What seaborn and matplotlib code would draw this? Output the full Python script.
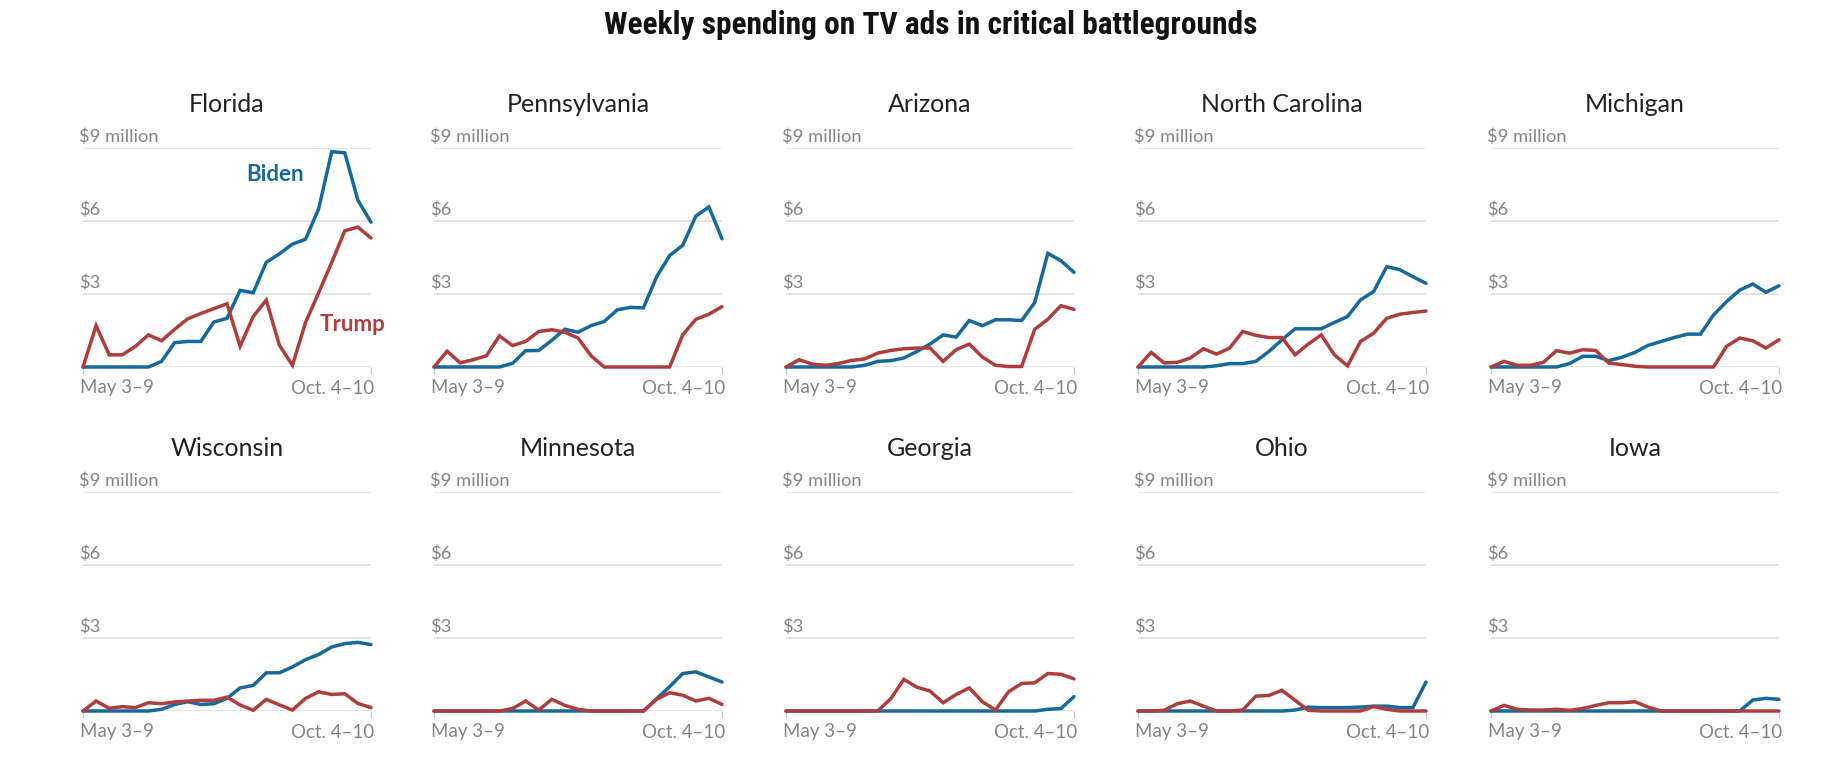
import matplotlib
matplotlib.use("Agg")
import matplotlib.pyplot as plt
import matplotlib.transforms as mtransforms
from matplotlib import font_manager
import seaborn as sns
import pandas as pd

# ---------------- data (million $ per week, May 3-9 ... Oct. 4-10) ----------------
states = ["Florida", "Pennsylvania", "Arizona", "North Carolina", "Michigan",
          "Wisconsin", "Minnesota", "Georgia", "Ohio", "Iowa"]
week_labels = ["May 3–9", "Oct. 4–10"]
n_weeks = 23

florida_biden = [0, 0, 0, 0, 0, 0, 0.23, 1.0, 1.05, 1.05, 1.85, 2.0, 3.15, 3.05, 4.3, 4.65, 5.05, 5.25, 6.5, 8.85, 8.8, 6.85, 5.95]
florida_trump = [0, 1.7, 0.5, 0.5, 0.85, 1.32, 1.08, 1.55, 1.98, 2.2, 2.4, 2.6, 0.85, 2.07, 2.75, 0.9, 0.07, 1.83, 3.05, 4.3, 5.6, 5.75, 5.3]

pennsylvania_biden = [0, 0, 0, 0, 0, 0, 0.15, 0.67, 0.68, 1.1, 1.55, 1.43, 1.7, 1.87, 2.35, 2.45, 2.43, 3.7, 4.58, 5.0, 6.2, 6.58, 5.27]
pennsylvania_trump = [0, 0.65, 0.17, 0.3, 0.46, 1.28, 0.88, 1.05, 1.46, 1.53, 1.43, 1.19, 0.46, 0, 0, 0, 0, 0, 0, 1.32, 1.96, 2.17, 2.48]

arizona_biden = [0, 0, 0, 0, 0, 0, 0.07, 0.23, 0.26, 0.37, 0.64, 0.94, 1.32, 1.23, 1.91, 1.7, 1.94, 1.94, 1.91, 2.65, 4.67, 4.37, 3.89]
arizona_trump = [0, 0.3, 0.12, 0.07, 0.14, 0.27, 0.33, 0.57, 0.68, 0.75, 0.78, 0.78, 0.23, 0.71, 0.94, 0.41, 0.07, 0.02, 0.02, 1.55, 1.96, 2.52, 2.37]

north_carolina_biden = [0, 0, 0, 0, 0, 0, 0.05, 0.14, 0.14, 0.23, 0.64, 1.12, 1.57, 1.57, 1.57, 1.83, 2.07, 2.76, 3.1, 4.12, 4.0, 3.71, 3.44]
north_carolina_trump = [0, 0.6, 0.17, 0.19, 0.37, 0.75, 0.53, 0.78, 1.46, 1.3, 1.21, 1.21, 0.5, 0.94, 1.32, 0.5, 0.05, 1.05, 1.39, 2.0, 2.17, 2.24, 2.3]

michigan_biden = [0, 0, 0, 0, 0, 0, 0.14, 0.44, 0.44, 0.26, 0.4, 0.6, 0.89, 1.05, 1.21, 1.35, 1.35, 2.14, 2.69, 3.16, 3.41, 3.07, 3.34]
michigan_trump = [0, 0.23, 0.07, 0.07, 0.19, 0.67, 0.57, 0.71, 0.68, 0.16, 0.1, 0.03, 0, 0, 0, 0, 0, 0, 0.85, 1.19, 1.08, 0.78, 1.12]

wisconsin_biden = [0, 0, 0, 0, 0, 0, 0.07, 0.27, 0.38, 0.27, 0.3, 0.52, 0.95, 1.05, 1.57, 1.57, 1.81, 2.11, 2.32, 2.63, 2.77, 2.82, 2.73]
wisconsin_trump = [0, 0.41, 0.11, 0.18, 0.14, 0.34, 0.3, 0.37, 0.41, 0.44, 0.44, 0.57, 0.25, 0.03, 0.48, 0.25, 0.04, 0.52, 0.79, 0.68, 0.71, 0.31, 0.14]

minnesota_biden = [0, 0, 0, 0, 0, 0, 0, 0, 0, 0, 0, 0, 0, 0, 0, 0, 0, 0.5, 1.0, 1.54, 1.61, 1.4, 1.19]
minnesota_trump = [0, 0, 0, 0, 0, 0, 0.1, 0.41, 0.04, 0.48, 0.23, 0.07, 0, 0, 0, 0, 0, 0.48, 0.75, 0.65, 0.41, 0.52, 0.27]

georgia_biden = [0, 0, 0, 0, 0, 0, 0, 0, 0, 0, 0, 0, 0, 0, 0, 0, 0, 0, 0, 0, 0.07, 0.1, 0.59]
georgia_trump = [0, 0, 0, 0, 0, 0, 0, 0, 0.5, 1.3, 0.98, 0.82, 0.34, 0.68, 0.95, 0.38, 0.04, 0.79, 1.13, 1.16, 1.54, 1.51, 1.32]

ohio_biden = [0, 0, 0, 0, 0, 0, 0, 0, 0, 0, 0, 0, 0.04, 0.16, 0.14, 0.14, 0.14, 0.16, 0.2, 0.2, 0.14, 0.14, 1.19]
ohio_trump = [0, 0, 0.03, 0.3, 0.41, 0.2, 0, 0, 0.04, 0.61, 0.64, 0.85, 0.44, 0.03, 0, 0, 0, 0, 0.18, 0.07, 0, 0, 0]

iowa_biden = [0, 0, 0, 0, 0, 0, 0, 0, 0, 0, 0, 0, 0, 0, 0, 0, 0, 0, 0, 0, 0.45, 0.52, 0.48]
iowa_trump = [0, 0.23, 0.07, 0.04, 0.04, 0.07, 0.03, 0.1, 0.23, 0.34, 0.34, 0.38, 0.16, 0, 0, 0, 0, 0, 0, 0, 0, 0, 0]

y_ticks = [0, 3, 6, 9]
y_tick_labels = ["", "$3", "$6", "$9 million"]

biden_series = [florida_biden, pennsylvania_biden, arizona_biden, north_carolina_biden, michigan_biden,
                wisconsin_biden, minnesota_biden, georgia_biden, ohio_biden, iowa_biden]
trump_series = [florida_trump, pennsylvania_trump, arizona_trump, north_carolina_trump, michigan_trump,
                wisconsin_trump, minnesota_trump, georgia_trump, ohio_trump, iowa_trump]

# ---------------- style ----------------
sns.set_theme(style="white")
plt.rcParams["font.family"] = ["Lato", "DejaVu Sans"]

BLUE = "#16699c"
RED = "#b03d3d"
GRID = "#dcdcdc"
TICK_TXT = "#858585"

W, H = 1844, 774
fig = plt.figure(figsize=(W / 100, H / 100), dpi=100)

col_left = [83, 434, 786, 1138, 1491]
ax_w = 288
row_top = [148, 492]
ax_h = 219

weeks = list(range(n_weeks))

for i, state in enumerate(states):
    r, c = divmod(i, 5)
    left = col_left[c] / W
    bottom = 1 - (row_top[r] + ax_h) / H
    ax = fig.add_axes([left, bottom, ax_w / W, ax_h / H])

    df = pd.DataFrame({"week": weeks, "biden": biden_series[i], "trump": trump_series[i]})
    sns.lineplot(data=df, x="week", y="biden", ax=ax, color=BLUE, linewidth=2.5)
    sns.lineplot(data=df, x="week", y="trump", ax=ax, color=RED, linewidth=2.5)
    for ln in ax.lines:
        ln.set_clip_on(False)
        ln.set_solid_joinstyle("miter")

    ax.set_xlim(0, n_weeks - 1)
    ax.set_ylim(0, 9)
    ax.set_xlabel("")
    ax.set_ylabel("")
    for s in ax.spines.values():
        s.set_visible(False)

    # grid lines
    ax.set_yticks(y_ticks)
    ax.set_yticklabels([])
    ax.tick_params(axis="y", length=0)
    ax.grid(axis="y", color=GRID, linewidth=1.1)
    ax.set_axisbelow(True)

    # y labels above the gridlines
    trans = mtransforms.offset_copy(ax.get_yaxis_transform(), fig=fig, x=-4, y=3, units="dots")
    for v, lab in zip(y_ticks, y_tick_labels):
        if lab:
            ax.text(0, v, lab, transform=trans, ha="left", va="bottom",
                    fontsize=13.2, color=TICK_TXT)

    # x ticks at first and last week
    ax.set_xticks([0, n_weeks - 1])
    ax.set_xticklabels(week_labels)
    ax.tick_params(axis="x", length=5, width=1, color="#c8c8c8", pad=4,
                   labelsize=13.5, labelcolor=TICK_TXT, bottom=True)
    xl = ax.get_xticklabels()
    xl[0].set_ha("left")
    xl[1].set_ha("right")
    xl[0].set_transform(xl[0].get_transform() + mtransforms.ScaledTranslation(-3 / 100, 0, fig.dpi_scale_trans))
    xl[1].set_transform(xl[1].get_transform() + mtransforms.ScaledTranslation(3 / 100, 0, fig.dpi_scale_trans))

    ax.set_title(state, fontsize=18, color="#222222", pad=26)

    if state == "Florida":
        ax.text(14.7, 7.9, "Biden", color=BLUE, fontsize=16, fontweight="bold",
                ha="center", va="center")
        ax.text(20.6, 1.73, "Trump", color=RED, fontsize=16, fontweight="bold",
                ha="center", va="center")

# condensed bold title font, if any is available
avail = {f.name for f in font_manager.fontManager.ttflist}
title_family = [f for f in ["Roboto Condensed", "DejaVu Sans Condensed", "Liberation Sans Narrow",
                            "Open Sans Condensed", "Roboto"] if f in avail] or ["DejaVu Sans"]
fig.text(931 / W, 1 - 25 / H, "Weekly spending on TV ads in critical battlegrounds",
         ha="center", va="center", fontsize=22.6, fontweight="bold", color="#121212",
         family=title_family[0], fontstretch="condensed")

fig.savefig("out.png", dpi=100, facecolor="white")
